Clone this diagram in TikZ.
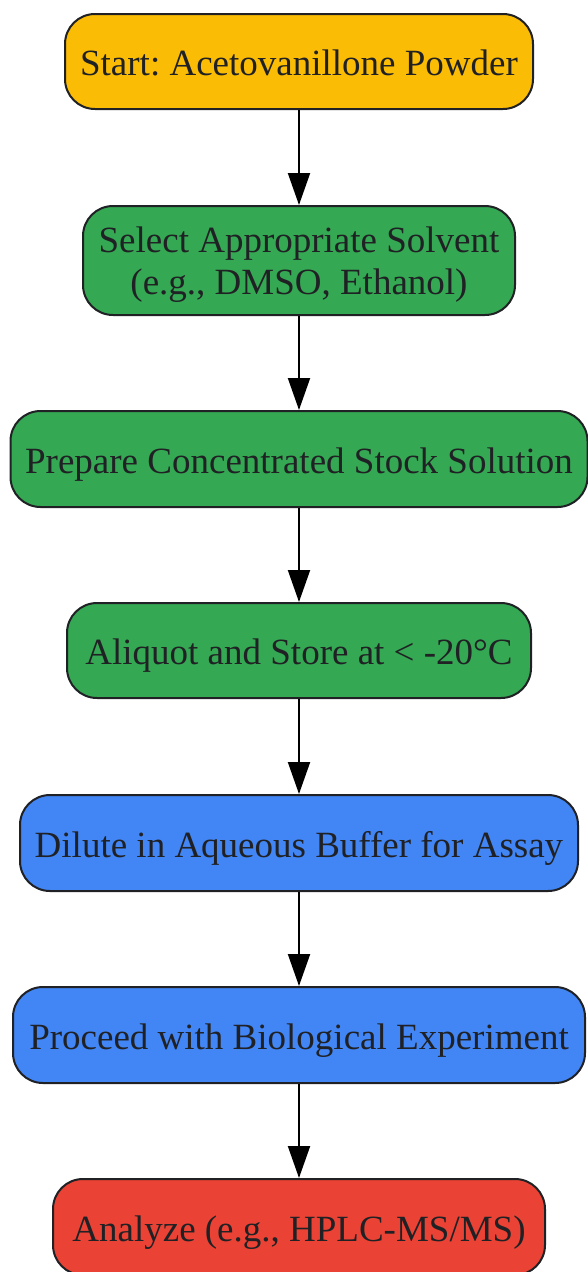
\documentclass[tikz,border=0pt]{standalone}
\usepackage{fontspec}
\setmainfont{Liberation Serif}
\usetikzlibrary{arrows.meta}
\definecolor{cyellow}{HTML}{FBBC05}
\definecolor{cgreen}{HTML}{34A853}
\definecolor{cblue}{HTML}{4285F4}
\definecolor{cred}{HTML}{EA4335}
\definecolor{ctext}{HTML}{202124}
\frenchspacing
\begin{document}
\begin{tikzpicture}[x=1pt,y=1pt,
  box/.style={draw=ctext, line width=2pt, rounded corners=30pt, text=ctext,
    font=\fontsize{37}{42.3}\selectfont, align=center, inner sep=0pt, text depth=0pt},
  oneline/.style={box, text height=28.6pt},
  flow/.style={draw=black, line width=2pt, -{Triangle[length=32pt,width=22pt]}}]
\useasboundingbox (0,0) rectangle (588,-1272);
\node[oneline, fill=cyellow, minimum width=468pt, minimum height=95pt] (n1) at (299,-61.5) {Start: Acetovanillone Powder};
\node[box, fill=cgreen, minimum width=432pt, minimum height=109pt] (n2) at (299,-260.5) {Select Appropriate Solvent\\(e.g., DMSO, Ethanol)};
\node[oneline, fill=cgreen, minimum width=577pt, minimum height=96pt] (n3) at (299,-459) {Prepare Concentrated Stock Solution};
\node[oneline, fill=cgreen, minimum width=464pt, minimum height=95pt] (n4) at (299,-650.5) {Aliquot and Store at < -20°C};
\node[oneline, fill=cblue, minimum width=558pt, minimum height=96pt] (n5) at (299,-843) {Dilute in Aqueous Buffer for Assay};
\node[oneline, fill=cblue, minimum width=572pt, minimum height=96pt] (n6) at (299,-1035) {Proceed with Biological Experiment};
\node[oneline, fill=cred, minimum width=492pt, minimum height=96pt] (n7) at (299,-1227) {Analyze (e.g., HPLC-MS/MS)};
\draw[flow] (n1) -- (n2);
\draw[flow] (n2) -- (n3);
\draw[flow] (n3) -- (n4);
\draw[flow] (n4) -- (n5);
\draw[flow] (n5) -- (n6);
\draw[flow] (n6) -- (n7);
\end{tikzpicture}
\end{document}
